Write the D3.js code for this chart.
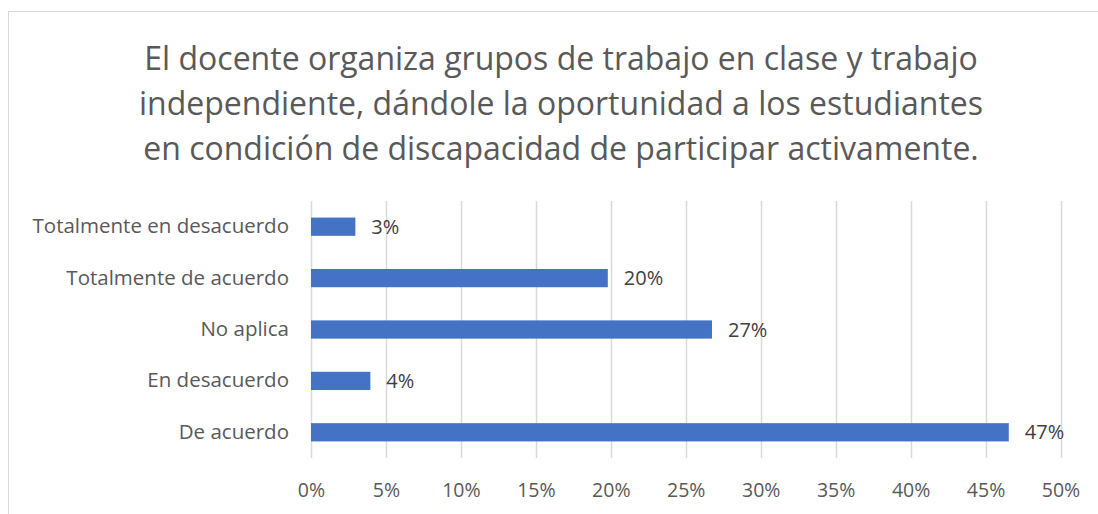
<!DOCTYPE html>
<html>
<head>
<meta charset="utf-8">
<script src="https://cdn.jsdelivr.net/npm/d3@7"></script>
<style>
  html, body { margin: 0; padding: 0; background: #fff; }
  svg { display: block; font-family: "Open Sans", Lato, sans-serif; }
</style>
</head>
<body>
<svg id="chart" width="1098" height="514"></svg>
<script>
// Chart data
const titleLines = [
    "El docente organiza grupos de trabajo en clase y trabajo",
    "independiente, dándole la oportunidad a los estudiantes",
    "en condición de discapacidad de participar activamente."
];
const categories = ["Totalmente en desacuerdo", "Totalmente de acuerdo", "No aplica", "En desacuerdo", "De acuerdo"];
const values = [0.0296, 0.198, 0.2675, 0.0396, 0.4655];
const valueLabels = ["3%", "20%", "27%", "4%", "47%"];
const xTicks = [0, 0.05, 0.10, 0.15, 0.20, 0.25, 0.30, 0.35, 0.40, 0.45, 0.50];

const svg = d3.select("#chart");
const width = +svg.attr("width");
const height = +svg.attr("height");

// Plot area
const margin = { left: 311, right: 38, top: 201, bottom: 56 };

// Chart border (runs off the right and bottom edges)
svg.append("rect")
    .attr("x", 8.5)
    .attr("y", 11.5)
    .attr("width", width + 20)
    .attr("height", height + 20)
    .attr("fill", "none")
    .attr("stroke", "#d9d9d9")
    .attr("stroke-width", 1);

// Title
svg.append("text")
    .attr("text-anchor", "middle")
    .attr("fill", "#595959")
    .style("font-size", "32px")
    .selectAll("tspan")
    .data(titleLines)
    .join("tspan")
    .attr("x", 561)
    .attr("y", (d, i) => 70 + i * 45)
    .text(d => d);

const x = d3.scaleLinear()
    .domain([0, 0.5])
    .range([margin.left, width - margin.right + 0.5]);

const y = d3.scaleBand()
    .domain(categories)
    .range([margin.top, height - margin.bottom])
    .paddingInner(0.645)
    .paddingOuter(0.3225);

// Vertical gridlines
svg.append("g")
    .selectAll("line")
    .data(xTicks)
    .join("line")
    .attr("x1", d => Math.round(x(d)) + 0.5)
    .attr("x2", d => Math.round(x(d)) + 0.5)
    .attr("y1", margin.top)
    .attr("y2", height - margin.bottom)
    .attr("stroke", "#d9d9d9")
    .attr("stroke-width", 1.5);

// X axis labels
const xAxis = d3.axisBottom(x)
    .tickValues(xTicks)
    .tickFormat(d3.format(".0%"))
    .tickSize(0)
    .tickPadding(0);

const gx = svg.append("g")
    .attr("transform", `translate(0,${height - margin.bottom + 25})`)
    .call(xAxis);
gx.select(".domain").remove();
gx.selectAll("text")
    .attr("fill", "#595959")
    .attr("dy", "0.7em")
    .style("font-size", "19.5px")
    .style("font-family", "'Open Sans', Lato, sans-serif");

// Y axis labels
const yAxis = d3.axisLeft(y).tickSize(0).tickPadding(22);
const gy = svg.append("g")
    .attr("transform", `translate(${margin.left},0)`)
    .call(yAxis);
gy.select(".domain").remove();
gy.selectAll("text")
    .attr("fill", "#595959")
    .style("font-size", "20.5px")
    .style("font-family", "'Open Sans', Lato, sans-serif");

// Bars
svg.append("g")
    .selectAll("rect")
    .data(values)
    .join("rect")
    .attr("x", x(0))
    .attr("y", (d, i) => y(categories[i]))
    .attr("width", d => x(d) - x(0))
    .attr("height", y.bandwidth())
    .attr("fill", "#4472c4");

// Data labels
svg.append("g")
    .selectAll("text")
    .data(values)
    .join("text")
    .attr("x", d => x(d) + 16)
    .attr("y", (d, i) => y(categories[i]) + y.bandwidth() / 2)
    .attr("dy", "0.35em")
    .attr("fill", "#404040")
    .style("font-size", "20px")
    .text((d, i) => valueLabels[i]);
</script>
</body>
</html>
